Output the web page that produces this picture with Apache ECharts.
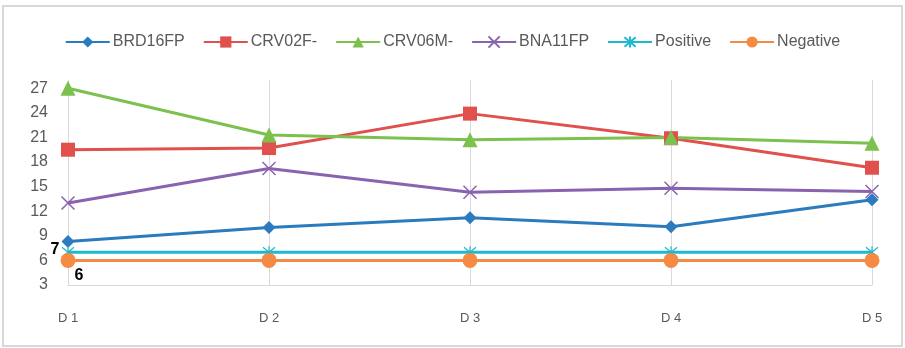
<!DOCTYPE html>
<html>
<head>
<meta charset="utf-8">
<script src="https://cdn.jsdelivr.net/npm/echarts@6/dist/echarts.min.js"></script>
<style>
  html, body { margin: 0; padding: 0; background: #fff; }
  #chart { width: 905px; height: 348px; }
</style>
</head>
<body>
<div id="chart"></div>
<script>
// Days on the x axis
const days = ['D 1', 'D 2', 'D 3', 'D 4', 'D 5'];

// Measured values per sample
const brd16fp = [8.3, 10.0, 11.2, 10.1, 13.4];
const crv02f = [19.5, 19.7, 23.9, 20.9, 17.3];
const crv06m = [27.0, 21.3, 20.7, 21.0, 20.3];
const bna11fp = [13.0, 17.2, 14.3, 14.8, 14.4];
const positive = [7, 7, 7, 7, 7];
const negative = [6, 6, 6, 6, 6];

const yTicks = [3, 6, 9, 12, 15, 18, 21, 24, 27];

const crossPath = 'path://M0,0L10,10M10,0L0,10';
const starPath = 'path://M0,0L10,10M10,0L0,10M5,-1L5,11';

function lineSeries(name, data, color, symbol, size, extra) {
  return Object.assign({
    name: name,
    type: 'line',
    data: data,
    symbol: symbol,
    symbolSize: size,
    lineStyle: { color: color, width: 3 },
    itemStyle: { color: color },
    emphasis: { disabled: true },
    z: 3
  }, extra || {});
}

const chart = echarts.init(document.getElementById('chart'), null, { renderer: 'canvas' });

chart.setOption({
  animation: false,
  textStyle: { fontFamily: '"Liberation Sans", sans-serif' },
  graphic: [{
    type: 'rect',
    shape: { x: 3, y: 6, width: 899, height: 340 },
    style: { fill: 'none', stroke: '#d9d9d9', lineWidth: 2 },
    silent: true
  }],
  legend: {
    top: 29,
    left: 'center',
    itemWidth: 44,
    itemHeight: 14,
    itemGap: 18,
    textStyle: { color: '#595959', fontSize: 16, padding: [0, 0, 0, -2] },
    data: ['BRD16FP', 'CRV02F-', 'CRV06M-', 'BNA11FP', 'Positive', 'Negative']
  },
  grid: { left: 68, right: 33, top: 80, bottom: 63, containLabel: false },
  xAxis: {
    type: 'category',
    data: days,
    boundaryGap: false,
    axisLine: { lineStyle: { color: '#d9d9d9', width: 1 } },
    axisTick: { show: false },
    axisLabel: { color: '#595959', fontSize: 13, margin: 27 },
    splitLine: { show: true, lineStyle: { color: '#d9d9d9', width: 1 } }
  },
  yAxis: {
    type: 'value',
    min: 3,
    max: 28,
    interval: 3,
    axisLine: { show: false },
    axisTick: { show: false },
    splitLine: { show: false },
    axisLabel: {
      color: '#595959',
      fontSize: 16,
      margin: 20,
      formatter: v => (yTicks.indexOf(v) >= 0 ? String(v) : '')
    }
  },
  series: [
    lineSeries('BRD16FP', brd16fp, '#2b7bbf', 'diamond', 13),
    lineSeries('CRV02F-', crv02f, '#e0504d', 'rect', 14),
    lineSeries('CRV06M-', crv06m, '#7cc04e', 'triangle', 15),
    lineSeries('BNA11FP', bna11fp, '#8a63b0', crossPath, 13, {
      itemStyle: { color: '#8a63b0', borderColor: '#8a63b0', borderWidth: 1.5 }
    }),
    lineSeries('Positive', positive.map((v, i) => i === 0 ? {
      value: v,
      label: { show: true, position: 'left', distance: 2, offset: [0, -3], color: '#000', fontWeight: 'bold', fontSize: 16 }
    } : v), '#1cb9cf', starPath, 12, {
      itemStyle: { color: '#1cb9cf', borderColor: '#1cb9cf', borderWidth: 1.2 }
    }),
    lineSeries('Negative', negative.map((v, i) => i === 0 ? {
      value: v,
      label: { show: true, position: [14, 15], color: '#000', fontWeight: 'bold', fontSize: 16 }
    } : v), '#f58a42', 'circle', 15)
  ]
});
</script>
</body>
</html>
